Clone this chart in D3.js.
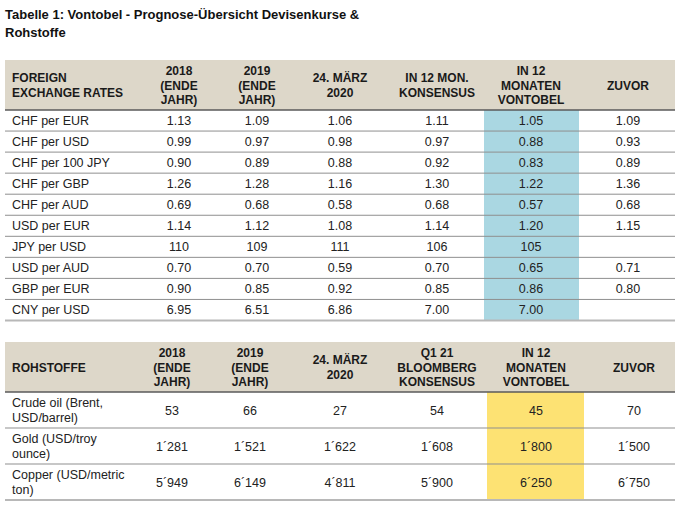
<!DOCTYPE html>
<html><head><meta charset="utf-8">
<script src="https://cdn.jsdelivr.net/npm/d3@7"></script>
<style>body{margin:0;background:#fff;} svg{display:block;font-family:Arial,"Liberation Sans",sans-serif;}</style>
</head><body>
<script>
// ---- data ----
const title = ["Tabelle 1: Vontobel - Prognose-Übersicht Devisenkurse &", "Rohstoffe"];
const fxHeaders = [["FOREIGN","EXCHANGE RATES"],["2018","(ENDE","JAHR)"],["2019","(ENDE","JAHR)"],["24. MÄRZ","2020"],["IN 12 MON.","KONSENSUS"],["IN 12","MONATEN","VONTOBEL"],["ZUVOR"]];
const fxCategories = ["CHF per EUR","CHF per USD","CHF per 100 JPY","CHF per GBP","CHF per AUD","USD per EUR","JPY per USD","USD per AUD","GBP per EUR","CNY per USD"];
const fx2018 = [1.13,0.99,0.90,1.26,0.69,1.14,110,0.70,0.90,6.95];
const fx2019 = [1.09,0.97,0.89,1.28,0.68,1.12,109,0.70,0.85,6.51];
const fxMar2020 = [1.06,0.98,0.88,1.16,0.58,1.08,111,0.59,0.92,6.86];
const fxConsensus = [1.11,0.97,0.92,1.30,0.68,1.14,106,0.70,0.85,7.00];
const fxVontobel = [1.05,0.88,0.83,1.22,0.57,1.20,105,0.65,0.86,7.00];
const fxZuvor = [1.09,0.93,0.89,1.36,0.68,1.15,null,0.71,0.80,null];

const cmHeaders = [["ROHSTOFFE"],["2018","(ENDE","JAHR)"],["2019","(ENDE","JAHR)"],["24. MÄRZ","2020"],["Q1 21","BLOOMBERG","KONSENSUS"],["IN 12","MONATEN","VONTOBEL"],["ZUVOR"]];
const cmCategories = [["Crude oil (Brent,","USD/barrel)"],["Gold (USD/troy","ounce)"],["Copper (USD/metric","ton)"]];
const cm2018 = [53,1281,5949];
const cm2019 = [66,1521,6149];
const cmMar2020 = [27,1622,4811];
const cmConsensus = [54,1608,5900];
const cmVontobel = [45,1800,6250];
const cmZuvor = [70,1500,6750];

// ---- drawing ----
const W = 689, H = 512;
const svg = d3.select("body").append("svg").attr("width", W).attr("height", H);

svg.selectAll("text.title").data(title).join("text")
  .attr("x", 5).attr("y", (d,i)=>19 + i*18)
  .attr("font-size", 13).attr("font-weight", "bold").attr("fill", "#111").text(d=>d);

const locale = d3.formatLocale({decimal:".", thousands:"´", grouping:[3], currency:["",""]});
const fmtFx = v => v == null ? "" : (v >= 100 ? d3.format("d")(v) : d3.format(".2f")(v));
const fmtCm = v => v == null ? "" : locale.format(",d")(v);

function drawTable(cfg) {
  const g = svg.append("g");
  const x0 = 5, x1 = 675;
  const colX = cfg.colX; // column centres for value columns
  const xScale = d3.scaleOrdinal().domain(d3.range(colX.length)).range(colX);
  const y = d3.scaleBand().domain(d3.range(cfg.rows.length)).range([cfg.bodyTop, cfg.bodyBottom]);

  // header band
  g.append("rect").attr("x", x0).attr("y", cfg.headTop).attr("width", x1-x0).attr("height", cfg.bodyTop-cfg.headTop).attr("fill", "#ddd7c9");
  // highlight column
  g.append("rect").attr("x", cfg.hl[0]).attr("y", cfg.bodyTop).attr("width", cfg.hl[1]-cfg.hl[0]).attr("height", cfg.bodyBottom-cfg.bodyTop).attr("fill", cfg.hlColor);

  // header texts
  const lh = 14.5;
  cfg.headers.forEach((lines, ci) => {
    const cx = ci === 0 ? 12 : xScale(ci-1);
    const mid = (cfg.headTop + cfg.bodyTop)/2;
    const t = g.append("text").attr("font-size", 12).attr("font-weight", "bold").attr("fill", "#1a1a1a")
      .attr("text-anchor", ci === 0 ? "start" : "middle");
    lines.forEach((s, li) => {
      t.append("tspan").attr("x", cx).attr("y", mid + (li - (lines.length-1)/2)*lh + 4.5).text(s);
    });
  });

  // rows
  cfg.rows.forEach((r, ri) => {
    const cy = y(ri) + y.bandwidth()/2;
    const lines = Array.isArray(r.label) ? r.label : [r.label];
    const t = g.append("text").attr("font-size", 12.5).attr("fill", "#222");
    lines.forEach((s, li) => t.append("tspan").attr("x", 12).attr("y", cy + (li-(lines.length-1)/2)*15 + 4.5).text(s));
    g.selectAll(null).data(r.vals).join("text")
      .attr("x", (d,i)=>xScale(i)).attr("y", cy + 4.5)
      .attr("text-anchor", "middle").attr("font-size", 12.5).attr("fill", "#222")
      .text(d => cfg.fmt(d));
    // separator
    const last = ri === cfg.rows.length-1;
    g.append("line").attr("x1", x0).attr("x2", x1)
      .attr("y1", y(ri)+y.bandwidth()).attr("y2", y(ri)+y.bandwidth())
      .attr("stroke", last ? "#b8b8b8" : "#8f8f8f").attr("stroke-width", last ? 2 : 1);
  });
  // header bottom line
  g.append("line").attr("x1", x0).attr("x2", x1).attr("y1", cfg.bodyTop).attr("y2", cfg.bodyTop)
    .attr("stroke", "#5a5a5a").attr("stroke-width", 1.5);
}

drawTable({
  headers: fxHeaders,
  rows: fxCategories.map((c,i)=>({label:c, vals:[fx2018[i],fx2019[i],fxMar2020[i],fxConsensus[i],fxVontobel[i],fxZuvor[i]]})),
  colX: [179, 257, 340, 437, 531, 628],
  headTop: 60, bodyTop: 110, bodyBottom: 320.5,
  hl: [484, 579], hlColor: "#aad7e2",
  fmt: fmtFx
});

drawTable({
  headers: cmHeaders,
  rows: cmCategories.map((c,i)=>({label:c, vals:[cm2018[i],cm2019[i],cmMar2020[i],cmConsensus[i],cmVontobel[i],cmZuvor[i]]})),
  colX: [172, 250, 340, 437, 536, 634],
  headTop: 342, bodyTop: 392, bodyBottom: 500,
  hl: [487, 584], hlColor: "#fde273",
  fmt: fmtCm
});
</script>
</body></html>
